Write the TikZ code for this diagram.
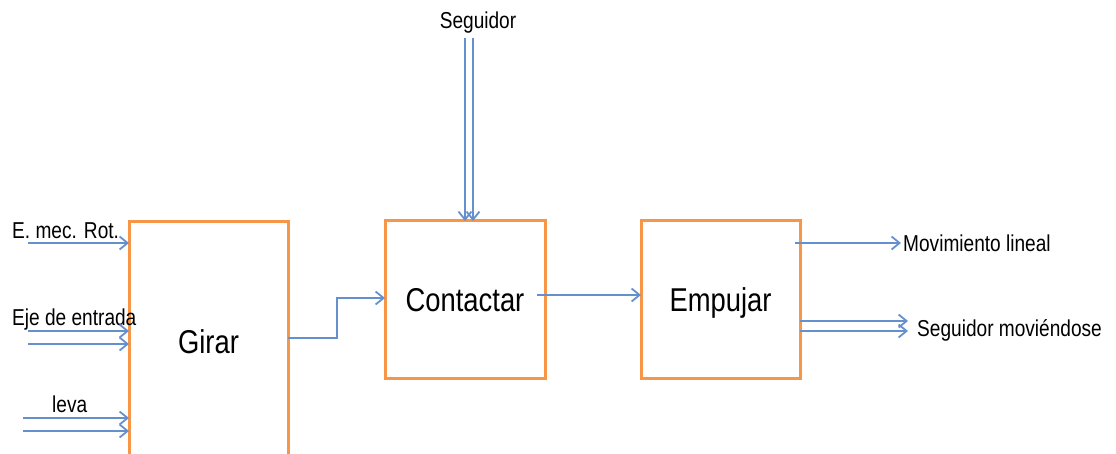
\documentclass[tikz,border=0pt]{standalone}
\usepackage{fontspec}
\setmainfont[FakeStretch=0.83]{Liberation Sans}
\usetikzlibrary{arrows.meta,calc}
\definecolor{boxorange}{HTML}{F79646}
\definecolor{arrblue}{HTML}{6490CE}
\begin{document}
\begin{tikzpicture}[x=1pt,y=-1pt,
  blk/.style={draw=boxorange, line width=3pt, fill=white, outer sep=0pt, inner sep=0pt, text depth=0pt, font=\fontsize{33}{38}\selectfont},
  lbl/.style={inner sep=0pt, font=\fontsize{23}{27}\selectfont},
  flow/.style={draw=arrblue, line width=1.8pt, -{Straight Barb[length=8pt,width=13pt]}}
]
\useasboundingbox (0,0) rectangle (1116,454);

% blocks
\node[blk, minimum width=159pt, minimum height=240pt] (girar) at (208.5,342) {Girar};
\node[blk, minimum width=160pt, minimum height=157pt] (contactar) at (465,299.5) {Contactar};
\node[blk, minimum width=159pt, minimum height=157pt] (empujar) at (720.5,299.5) {Empujar};

% labels
\node[lbl, anchor=base west] (emec) at (12,239) {E. mec. Rot.};
\node[lbl, anchor=base west] (eje) at (12,325) {Eje de entrada};
\node[lbl, anchor=base west] (leva) at (52,412) {leva};
\node[lbl, anchor=base] (seg) at (478,29) {Seguidor};
\node[lbl, anchor=west] (mov) at (903,243) {Movimiento lineal};
\node[lbl, anchor=base west] (smov) at (917,336) {Seguidor moviéndose};

% free ends
\coordinate (e1) at (28,243);
\coordinate (e2a) at (28,331);
\coordinate (e2b) at (28,344);
\coordinate (l1) at (23,418);
\coordinate (l2) at (23,431);
\coordinate (s1) at (465,38);
\coordinate (s2) at (473,38);
\coordinate (m1) at (908,321);
\coordinate (m2) at (908,331);

% inputs to Girar
\draw[flow] (e1) -- (girar.west |- e1);
\draw[flow] (e2a) -- (girar.west |- e2a);
\draw[flow] (e2b) -- (girar.west |- e2b);
\draw[flow] (l1) -- (girar.west |- l1);
\draw[flow] (l2) -- (girar.west |- l2);

% Girar -> Contactar
\draw[flow] ([yshift=4pt]girar.east) -- ++(49,0) |- ([yshift=1.5pt]contactar.west);

% Seguidor -> Contactar
\draw[flow] (s1) -- (s1 |- contactar.north);
\draw[flow] (s2) -- (s2 |- contactar.north);

% Contactar -> Empujar
\draw[flow] ([xshift=-8pt,yshift=4.5pt]contactar.east) -- ([yshift=4.5pt]empujar.west);

% outputs of Empujar
\draw[flow] ($(empujar.east |- mov.west)+(-5,0)$) -- ($(mov.west)+(-2,0)$);
\draw[flow] (empujar.east |- m1) -- (m1);
\draw[flow] (empujar.east |- m2) -- (m2);
\end{tikzpicture}
\end{document}
